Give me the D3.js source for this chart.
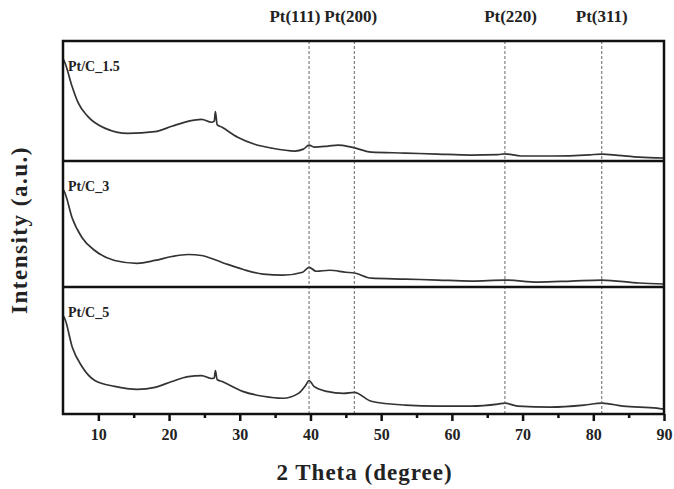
<!DOCTYPE html>
<html>
<head>
<meta charset="utf-8">
<script src="https://cdn.jsdelivr.net/npm/d3@7"></script>
<style>
  body { margin: 0; background: #fff; }
  text { font-family: "Liberation Serif", "Times New Roman", serif; font-weight: bold; fill: #222; }
</style>
</head>
<body>
<div id="chart"></div>
<script>
// 2 theta (degree) vs intensity (a.u., 0-100 within each panel)
const samples = ["Pt/C_1.5", "Pt/C_3", "Pt/C_5"];

const theta15 = [5.0, 5.3, 6.3, 7.1, 8.5, 10.9, 14.2, 18, 20.4, 22.7, 24.6, 26.0, 26.4, 26.55, 26.8, 27.5, 29.7, 32.1, 34.5, 37.8, 39.0, 39.8, 40.6, 42.5, 43.9, 45.8, 48.6, 53.4, 58, 62.7, 66.5, 67.5, 69.8, 74.5, 79.5, 81.2, 83.5, 86.5, 90];
const int15   = [86, 82, 62, 49, 37, 27, 22.5, 24, 28.6, 32.8, 34.5, 32, 33, 41, 30, 27.7, 19.3, 13.4, 10.1, 7.6, 9.2, 12.6, 10.9, 11.8, 12.6, 10.9, 6.7, 5.9, 5.0, 4.2, 4.6, 5.2, 3.4, 3.4, 4.4, 5.0, 4.0, 2.5, 1.7];

const theta3 = [5.0, 5.3, 6.3, 7.7, 9.5, 12.3, 15.5, 18, 20.4, 22.7, 24.6, 27.5, 30.4, 33.3, 36.1, 38.9, 39.8, 40.8, 42.7, 45, 46.2, 48.6, 53.4, 58, 62.7, 67.5, 72.2, 76.9, 81.2, 86.5, 90];
const int3   = [78, 74.6, 54.8, 38.9, 28.6, 20.6, 18.3, 20.6, 23.8, 25.4, 24.6, 19, 13.5, 9.5, 8.7, 11.1, 15.1, 11.9, 12.7, 11.1, 10.5, 6.3, 5.6, 4.8, 4.0, 4.8, 3.2, 4.0, 4.8, 2.4, 1.6];

const theta5 = [5.0, 5.3, 6.3, 7.7, 9.5, 12.3, 15.5, 18, 20.4, 22.7, 24.6, 26.0, 26.4, 26.55, 26.8, 27.5, 30.4, 33.3, 36.1, 38.3, 39.3, 39.8, 40.5, 42.3, 44.7, 46.2, 48.6, 53.4, 58, 62.7, 66.5, 67.5, 69.3, 74, 78.7, 81.2, 84.2, 89, 90];
const int5   = [78, 74.8, 52.8, 37, 26, 21.3, 18.9, 20.5, 25.2, 29.1, 29.9, 27.6, 28, 34, 26.8, 25.2, 17.3, 13.4, 11.8, 15.7, 22, 26, 21.3, 17.3, 15.7, 16.5, 9.4, 6.3, 5.5, 5.5, 7.1, 7.9, 5.5, 4.7, 6.3, 7.9, 5.5, 3.9, 3.1];

const peakNames = ["Pt(111)", "Pt(200)", "Pt(220)", "Pt(311)"];
const peakPos   = [39.8, 46.2, 67.5, 81.2];
const peakLabelPos = [37.8, 45.7, 68.3, 81.2];

const majorTicks = [10, 20, 30, 40, 50, 60, 70, 80, 90];
const minorTicks = [15, 25, 35, 45, 55, 65, 75, 85];

(function() {
  var series = [
    { name: samples[0], theta: theta15, value: int15 },
    { name: samples[1], theta: theta3, value: int3 },
    { name: samples[2], theta: theta5, value: int5 }
  ];

  var width = 674, height = 489;
  var plotLeft = 63, plotRight = 664, plotTop = 41, plotBottom = 414;
  var panelEdges = [plotTop, 161, 287, plotBottom];

  var svg = d3.select("#chart").append("svg")
      .attr("width", width)
      .attr("height", height);

  var x = d3.scaleLinear().domain([5, 90]).range([plotLeft, plotRight]);

  // panels
  series.forEach(function(s, i) {
    var y = d3.scaleLinear().domain([0, 100]).range([panelEdges[i + 1] - 1, panelEdges[i] + 1]);
    var pts = s.theta.map((t, j) => [t, s.value[j]]);

    var line = d3.line()
        .x(d => x(d[0]))
        .y(d => y(d[1]))
        .curve(d3.curveMonotoneX);

    svg.append("path")
        .datum(pts)
        .attr("d", line)
        .attr("fill", "none")
        .attr("stroke", "#333")
        .attr("stroke-width", 1.7)
        .attr("stroke-linejoin", "round");

    svg.append("text")
        .attr("x", plotLeft + 5)
        .attr("y", panelEdges[i] + 30)
        .attr("font-size", "14px")
        .text(s.name);
  });

  // dashed reference lines
  svg.append("g")
    .selectAll("line")
    .data(peakPos)
    .enter().append("line")
      .attr("x1", d => x(d))
      .attr("x2", d => x(d))
      .attr("y1", plotTop)
      .attr("y2", plotBottom)
      .attr("stroke", "#555")
      .attr("stroke-width", 0.9)
      .attr("stroke-dasharray", "3,2");

  svg.append("g")
    .selectAll("text")
    .data(peakNames)
    .enter().append("text")
      .attr("x", (d, i) => x(peakLabelPos[i]))
      .attr("y", 22)
      .attr("text-anchor", "middle")
      .attr("font-size", "17px")
      .text(d => d);

  // frame and separators
  svg.append("rect")
      .attr("x", plotLeft)
      .attr("y", plotTop)
      .attr("width", plotRight - plotLeft)
      .attr("height", plotBottom - plotTop)
      .attr("fill", "none")
      .attr("stroke", "#111")
      .attr("stroke-width", 2.5);

  svg.append("g")
    .selectAll("line")
    .data(panelEdges.slice(1, 3))
    .enter().append("line")
      .attr("x1", plotLeft)
      .attr("x2", plotRight)
      .attr("y1", d => d)
      .attr("y2", d => d)
      .attr("stroke", "#111")
      .attr("stroke-width", 2.5);

  // x axis
  var xAxis = svg.append("g")
      .attr("transform", "translate(0," + plotBottom + ")")
      .call(d3.axisBottom(x).tickValues(majorTicks).tickSize(7).tickPadding(8));

  xAxis.select(".domain").remove();
  xAxis.selectAll(".tick line").attr("stroke", "#111").attr("stroke-width", 2.5);
  xAxis.selectAll(".tick text")
      .attr("font-size", "16px")
      .attr("font-family", "Liberation Serif, serif")
      .attr("font-weight", "bold")
      .attr("fill", "#222");

  var xMinor = svg.append("g")
      .attr("transform", "translate(0," + plotBottom + ")")
      .call(d3.axisBottom(x).tickValues(minorTicks).tickSize(4).tickFormat(""));
  xMinor.select(".domain").remove();
  xMinor.selectAll(".tick line").attr("stroke", "#111").attr("stroke-width", 2.5);

  svg.append("text")
      .attr("x", (plotLeft + plotRight) / 2 + 1)
      .attr("y", 480)
      .attr("text-anchor", "middle")
      .attr("font-size", "23px")
      .attr("letter-spacing", "1px")
      .text("2 Theta (degree)");

  svg.append("text")
      .attr("transform", "translate(27," + 230 + ") rotate(-90)")
      .attr("text-anchor", "middle")
      .attr("font-size", "23px")
      .attr("letter-spacing", "1.5px")
      .text("Intensity (a.u.)");
})();
</script>
</body>
</html>
